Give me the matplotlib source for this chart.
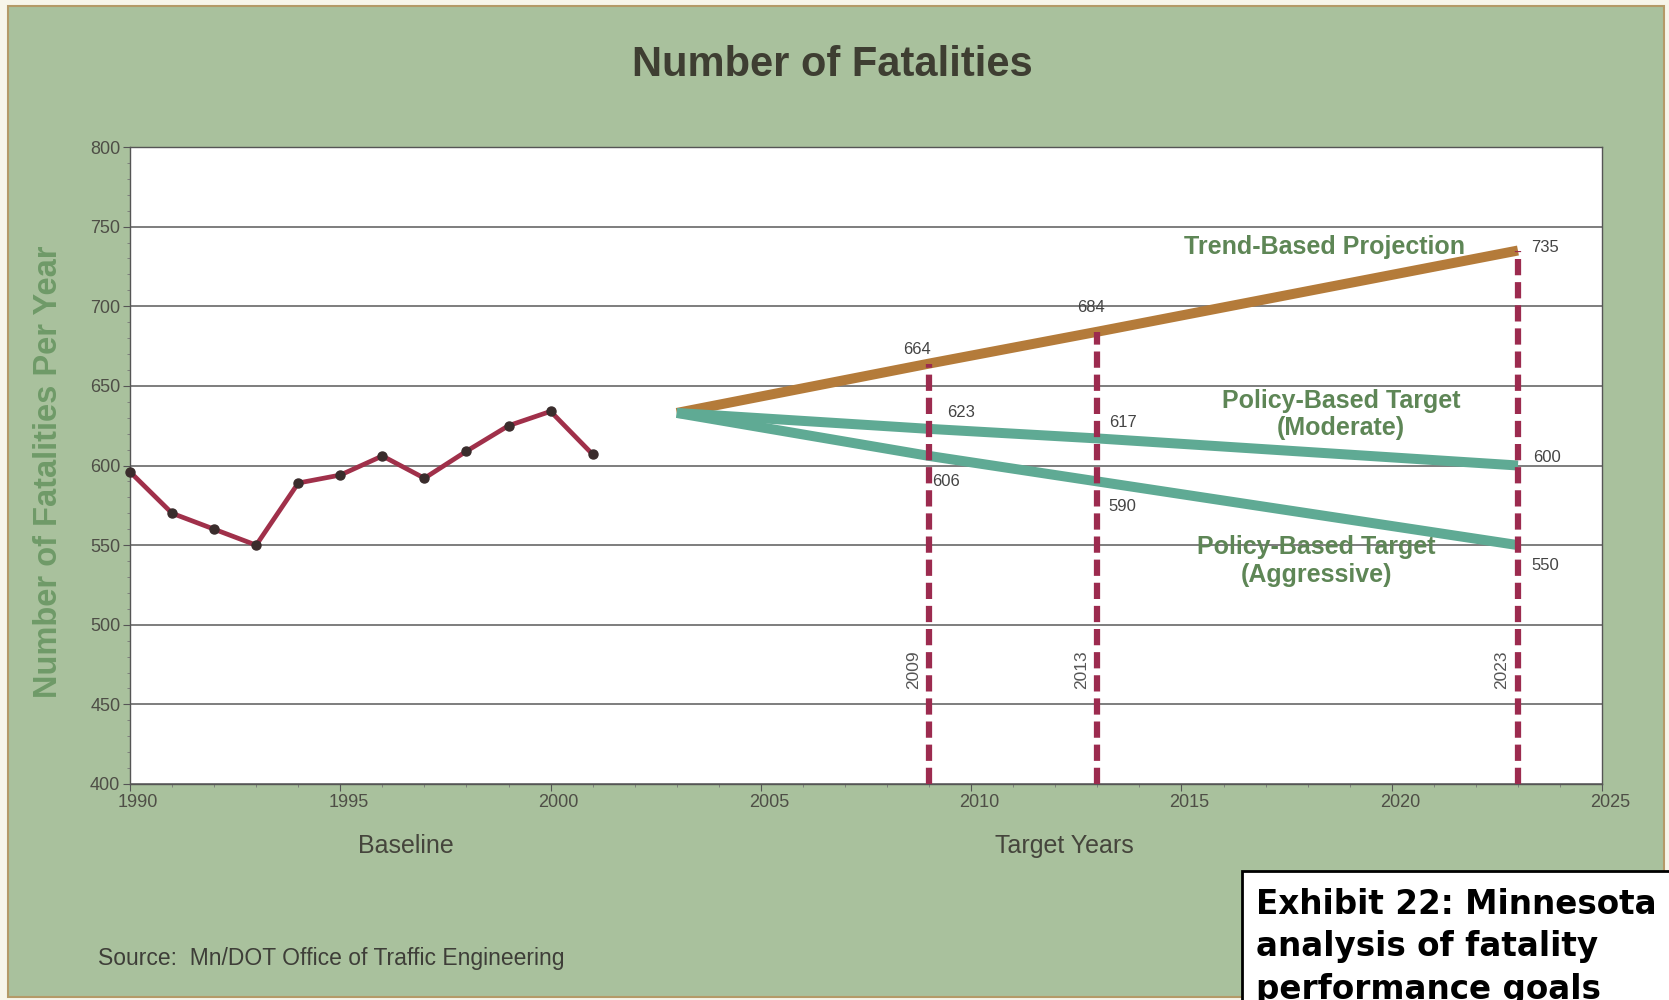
import matplotlib
matplotlib.use('Agg')
import matplotlib.pyplot as plt
import matplotlib.transforms as mtransforms
from matplotlib.patches import Rectangle

# baseline history 1990-2001
base_years = [1990, 1991, 1992, 1993, 1994, 1995, 1996, 1997, 1998, 1999, 2000, 2001]
base_vals = [596, 570, 560, 550, 589, 594, 606, 592, 609, 625, 634, 607]

# projections start from 2003 and pass through target years
start_year = 2003
start_val = 633
target_years = [2009, 2013, 2023]
trend_vals = [664, 684, 735]
moderate_vals = [623, 617, 600]
aggressive_vals = [606, 590, 550]

xticks = [1990, 1995, 2000, 2005, 2010, 2015, 2020, 2025]
yticks = [400, 450, 500, 550, 600, 650, 700, 750, 800]

green_bg = '#A9C19D'
label_green = '#5E8656'
tick_gray = '#4E4E46'
dash_red = '#9C2B4F'

plt.rcParams['font.family'] = ['Liberation Sans', 'DejaVu Sans']

fig = plt.figure(figsize=(16.69, 10), dpi=100)
fig.patch.set_facecolor('#F7F5EA')
fig.patches.append(Rectangle((0.005, 0.003), 0.992, 0.991, transform=fig.transFigure,
                             facecolor=green_bg, edgecolor='#B49A68', lw=1.5, zorder=-10))

ax = fig.add_axes([0.0779, 0.216, 0.882, 0.637])
ax.set_facecolor('white')
ax.set_xlim(1990, 2025)
ax.set_ylim(400, 800)
ax.set_xticks(xticks)
ax.set_yticks(yticks)
ax.set_xticks(range(1990, 2026), minor=True)
ax.set_yticks(range(400, 801, 10), minor=True)
ax.tick_params(axis='both', which='major', labelsize=13, labelcolor=tick_gray,
               color='#555555', length=5, direction='out', pad=2)
ax.tick_params(axis='both', which='minor', color='#777777', length=2, direction='out')
# year labels sit a little to the right of their ticks
shift = mtransforms.ScaledTranslation(8 / 100, 0, fig.dpi_scale_trans)
for t in ax.get_xticklabels():
    t.set_transform(t.get_transform() + shift)
for s in ax.spines.values():
    s.set_color('#555555')
    s.set_linewidth(1.0)
ax.yaxis.grid(True, color='#5A5A5A', lw=1.1)
ax.set_axisbelow(True)

# baseline series
ax.plot(base_years, base_vals, color='#A0304A', lw=3.4, marker='o', ms=6.5,
        mfc='#3A2C2C', mec='#3A2C2C', zorder=4, clip_on=False)

# projection lines
ax.plot([start_year] + target_years, [start_val] + trend_vals, color='#B47B3A',
        lw=7.2, solid_capstyle='butt', zorder=3)
ax.plot([start_year] + target_years, [start_val] + moderate_vals, color='#5FAA94',
        lw=7.2, solid_capstyle='butt', zorder=3)
ax.plot([start_year] + target_years, [start_val] + aggressive_vals, color='#5FAA94',
        lw=7.2, solid_capstyle='butt', zorder=3)

# dashed markers for target years
for yr, top in zip(target_years, trend_vals):
    ax.plot([yr, yr], [400, top], color=dash_red, lw=4.5, dashes=(2.6, 1.1), zorder=5)
    ax.text(yr - 0.38, 472, str(yr), rotation=90, ha='center', va='center',
            fontsize=12.5, color='#555555')

# value labels
lbl = dict(fontsize=12, color='#444444', ha='center', va='center', zorder=6)
ax.text(target_years[0] - 0.3, trend_vals[0] + 9, str(trend_vals[0]), **lbl)
ax.text(target_years[1] - 0.15, trend_vals[1] + 15, str(trend_vals[1]), **lbl)
ax.text(target_years[2] + 0.65, trend_vals[2] + 2, str(trend_vals[2]), **lbl)
ax.text(target_years[0] + 0.75, moderate_vals[0] + 10, str(moderate_vals[0]), **lbl)
ax.text(target_years[1] + 0.6, moderate_vals[1] + 10, str(moderate_vals[1]), **lbl)
ax.text(target_years[2] + 0.65, aggressive_vals[2] - 13, str(aggressive_vals[2]), **lbl)
ax.text(target_years[2] + 0.7, moderate_vals[2] + 5, str(moderate_vals[2]), **lbl)
ax.text(target_years[0] + 0.4, aggressive_vals[0] - 16, str(aggressive_vals[0]), **lbl)
ax.text(target_years[1] + 0.6, aggressive_vals[1] - 16, str(aggressive_vals[1]), **lbl)

# series names
name = dict(fontsize=18, fontweight='bold', color=label_green, ha='center',
            va='center', multialignment='center', zorder=6)
ax.text(2018.4, 737, 'Trend-Based Projection', **name)
ax.text(2018.8, 632, 'Policy-Based Target\n(Moderate)', **name)
ax.text(2018.2, 540, 'Policy-Based Target\n(Aggressive)', **name)

ax.set_ylabel('Number of Fatalities Per Year', fontsize=23.5, fontweight='bold',
              color='#6F9A68')
ax.yaxis.set_label_coords(-0.045, 0.49)

fig.text(0.499, 0.935, 'Number of Fatalities', ha='center', va='center',
         fontsize=30, fontweight='bold', color='#3E3E32')
fig.text(0.243, 0.154, 'Baseline', ha='center', va='center', fontsize=18, color='#45453C')
fig.text(0.6377, 0.154, 'Target Years', ha='center', va='center', fontsize=18, color='#45453C')
fig.text(0.059, 0.042, 'Source:  Mn/DOT Office of Traffic Engineering', ha='left',
         va='center', fontsize=16.5, color='#3E3E38')

# caption box in the lower right corner
fig.patches.append(Rectangle((0.7442, -0.02), 0.27, 0.149, transform=fig.transFigure,
                             facecolor='white', edgecolor='black', lw=2, zorder=10))
fig.text(0.7526, 0.112, 'Exhibit 22: Minnesota\nanalysis of fatality\nperformance goals',
         ha='left', va='top', fontsize=23.5, fontweight='bold', color='black',
         family='DejaVu Sans', linespacing=1.36, zorder=11)

fig.savefig('out.png', dpi=100, facecolor=fig.get_facecolor())
